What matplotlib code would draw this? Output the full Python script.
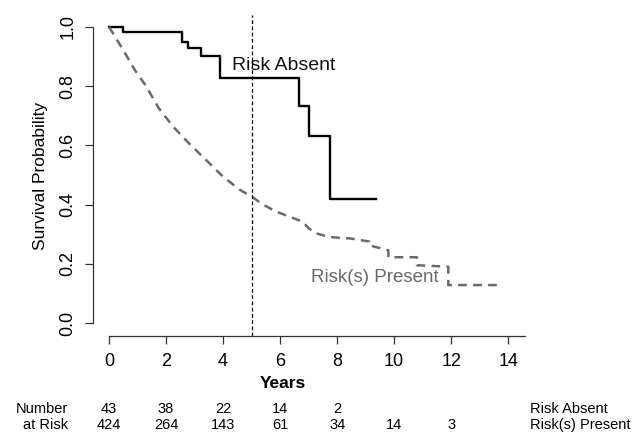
import matplotlib
matplotlib.use("Agg")
import matplotlib.pyplot as plt
import matplotlib.transforms as mtransforms

plt.rcParams['font.family'] = ['Liberation Sans', 'DejaVu Sans']

# Curva Kaplan-Meier: riesgo ausente (escalones)
t_absent = [0, 0.48, 2.57, 2.77, 3.22, 3.88, 6.66, 7.03, 7.75, 9.37]
s_absent = [1.0, 0.982, 0.95, 0.928, 0.90, 0.826, 0.733, 0.63, 0.418, 0.418]

# Curva Kaplan-Meier: riesgo(s) presente(s)
t_present = [0, 0.5, 0.9, 1.3, 1.75, 2.25, 2.8, 3.4, 4.0, 4.6, 5.0, 5.4, 5.86,
             6.3, 6.79, 7.0, 7.26, 7.73, 8.5, 9.13, 9.13, 9.5, 9.8, 9.8, 10.8,
             10.8, 11.9, 11.9, 13.8]
s_present = [1.0, 0.922, 0.855, 0.80, 0.725, 0.663, 0.607, 0.551, 0.494, 0.449,
             0.427, 0.40, 0.376, 0.36, 0.342, 0.32, 0.303, 0.29, 0.285, 0.275,
             0.262, 0.253, 0.245, 0.222, 0.222, 0.195, 0.19, 0.128, 0.128]

# Tabla de numero en riesgo
risk_times = [0, 2, 4, 6, 8, 10, 12]
n_absent = ['43', '38', '22', '14', '2', '', '']
n_present = ['424', '264', '143', '61', '34', '14', '3']

fig = plt.figure(figsize=(6.35, 4.37), dpi=100)
ax = fig.add_axes([93 / 635, 1 - 336 / 437, (531 - 93) / 635, 321 / 437])
ax.set_xlim(-0.56, 14.8)
ax.set_ylim(-0.044, 1.04)

ax.plot(t_absent, s_absent, drawstyle='steps-post', color='black', lw=1.7)
ax.plot(t_present, s_present, color='#6a6a6a', lw=1.8, linestyle=(0, (3.5, 2.5)))
ax.axvline(5, color='black', lw=0.9, linestyle=(0, (3, 2)))

ax.text(4.3, 0.87, 'Risk Absent', fontsize=14, color='#111111', ha='left', va='center')
ax.text(7.1, 0.153, 'Risk(s) Present', fontsize=13.5, color='#6a6a6a', ha='left', va='center')

# Ejes estilo R
for side in ['top', 'right']:
    ax.spines[side].set_visible(False)
ax.spines['left'].set_bounds(0, 1)
ax.spines['bottom'].set_bounds(0, 14.6)
for side in ['left', 'bottom']:
    ax.spines[side].set_color('#333333')
    ax.spines[side].set_linewidth(0.9)

ax.set_xticks(range(0, 15, 2))
ax.set_yticks([0, 0.2, 0.4, 0.6, 0.8, 1.0])
ax.set_yticklabels(['0.0', '0.2', '0.4', '0.6', '0.8', '1.0'], rotation=90, va='center')
ax.tick_params(axis='both', labelsize=13, length=6, width=0.9, color='#333333')
ax.tick_params(axis='x', pad=6)
ax.tick_params(axis='y', pad=6)
ax.set_ylabel('Survival Probability', fontsize=12.5, labelpad=8)

fig.text(283 / 635, 1 - 384 / 437, 'Years', fontsize=12.5, fontweight='bold',
         ha='center', va='center')

# Tabla debajo del eje
trans = mtransforms.blended_transform_factory(ax.transData, fig.transFigure)
y1 = 1 - 409 / 437
y2 = 1 - 425 / 437
for t, a, p in zip(risk_times, n_absent, n_present):
    ax.text(t, y1, a, transform=trans, fontsize=10.5, ha='center', va='center')
    ax.text(t, y2, p, transform=trans, fontsize=10.5, ha='center', va='center')
fig.text(68 / 635, y1, 'Number', fontsize=10.5, ha='right', va='center')
fig.text(68 / 635, y2, 'at Risk', fontsize=10.5, ha='right', va='center')
fig.text(530 / 635, y1, 'Risk Absent', fontsize=10.5, ha='left', va='center')
fig.text(530 / 635, y2, 'Risk(s) Present', fontsize=10.5, ha='left', va='center')

fig.savefig('out.png', dpi=100)
